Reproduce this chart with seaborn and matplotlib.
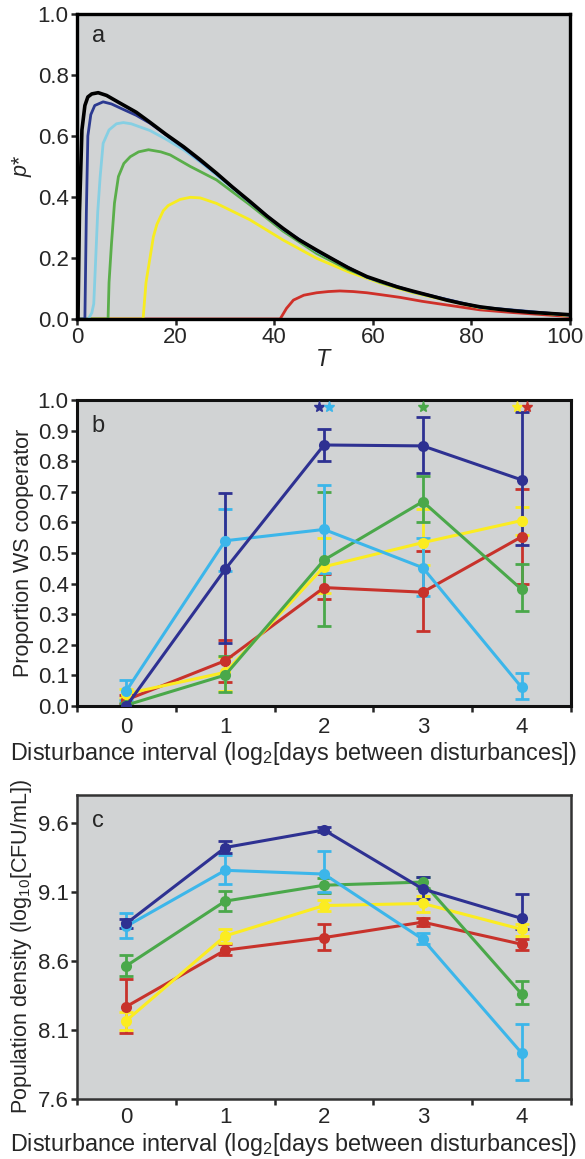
import numpy as np
import pandas as pd
import matplotlib.pyplot as plt
import matplotlib.transforms as mtransforms
import seaborn as sns

sns.set_style("ticks")
plt.rcParams['font.family'] = ['Liberation Sans', 'DejaVu Sans']
plt.rcParams['mathtext.fontset'] = 'custom'
plt.rcParams['mathtext.rm'] = 'Liberation Sans'
plt.rcParams['mathtext.it'] = 'Liberation Sans:italic'
plt.rcParams['mathtext.default'] = 'regular'

# ---- panel a: model curves p*(T) ----
black_T = [0, 0.2, 0.5, 1.0, 1.6, 2.2, 3.0, 4.3, 6.0, 8.7, 12, 14.8, 18, 21.6, 25, 28.3, 31.5, 35.1, 38.5,
           41.8, 45, 48.6, 52, 55, 58.8, 61.5, 65, 68.2, 72, 75, 78, 81.7, 85, 88.5, 92, 96, 100]
black_p = [0, 0, 0.35, 0.62, 0.70, 0.728, 0.738, 0.742, 0.733, 0.708, 0.678, 0.645, 0.606, 0.565, 0.522,
           0.478, 0.433, 0.385, 0.338, 0.297, 0.26, 0.226, 0.195, 0.168, 0.139, 0.124, 0.105, 0.091, 0.075,
           0.062, 0.051, 0.040, 0.033, 0.027, 0.022, 0.018, 0.014]
navy_T = [0, 1.6, 1.9, 2.2, 2.8, 3.6, 5.3, 7.0, 9.0, 12, 14.8, 21.6, 28.3, 35.1, 41.8, 48.6, 58.8, 68.2, 81.7, 100]
navy_p = [0, 0, 0.35, 0.60, 0.67, 0.70, 0.712, 0.705, 0.69, 0.668, 0.642, 0.562, 0.476, 0.383, 0.295, 0.224,
          0.137, 0.09, 0.039, 0.013]
lblue_T = [0, 2.3, 3.0, 3.4, 3.8, 4.2, 4.7, 5.3, 6.5, 8.0, 9.4, 11, 14.8, 18, 21.6, 25, 28.3, 35.1, 41.8,
           48.6, 58.8, 68.2, 81.7, 100]
lblue_p = [0, 0, 0.02, 0.05, 0.20, 0.35, 0.467, 0.576, 0.62, 0.64, 0.644, 0.64, 0.618, 0.59, 0.555, 0.515,
           0.472, 0.382, 0.294, 0.222, 0.136, 0.089, 0.038, 0.012]
green_T = [0, 6.3, 6.5, 7.0, 7.6, 8.4, 9.5, 10.8, 12.5, 14.5, 17, 18.9, 23, 28.3, 35.1, 41.8, 48.6, 55,
           61.5, 68.2, 81.7, 100]
green_p = [0, 0, 0.12, 0.248, 0.38, 0.467, 0.51, 0.532, 0.548, 0.555, 0.548, 0.538, 0.50, 0.456, 0.374,
           0.288, 0.215, 0.162, 0.12, 0.088, 0.038, 0.012]
yellow_T = [0, 13.4, 14.0, 14.8, 15.5, 16.2, 17.5, 18.5, 20.9, 23, 25, 28.3, 35.1, 41.8, 48.6, 55, 61.5,
            68.2, 81.7, 100]
yellow_p = [0, 0, 0.12, 0.20, 0.27, 0.31, 0.355, 0.372, 0.392, 0.399, 0.397, 0.379, 0.325, 0.259, 0.199,
            0.155, 0.118, 0.086, 0.037, 0.011]
red_T = [0, 41.2, 42.5, 43.9, 46, 48.6, 51, 53.3, 56, 58.8, 61.5, 65.5, 70, 75, 81.7, 88.5, 100]
red_p = [0, 0, 0.035, 0.062, 0.078, 0.086, 0.09, 0.092, 0.09, 0.086, 0.080, 0.071, 0.058, 0.046, 0.030,
         0.021, 0.008]

# ---- panels b, c: experiments ----
interval = [0, 1, 2, 3, 4]
groups = ["navy", "lblue", "green", "yellow", "red"]

coop_mean = {
    "navy":   [0.0, 0.447, 0.853, 0.85, 0.739],
    "lblue":  [0.05, 0.54, 0.577, 0.452, 0.061],
    "green":  [0.003, 0.101, 0.477, 0.668, 0.381],
    "yellow": [0.04, 0.11, 0.455, 0.534, 0.606],
    "red":    [0.02, 0.148, 0.387, 0.372, 0.553],
}
coop_lo = {
    "navy":   [0.0, 0.205, 0.80, 0.76, 0.525],
    "lblue":  [0.02, 0.44, 0.435, 0.36, 0.022],
    "green":  [0.0, 0.045, 0.26, 0.60, 0.31],
    "yellow": [0.025, 0.05, 0.37, 0.46, 0.56],
    "red":    [0.005, 0.08, 0.35, 0.245, 0.40],
}
coop_hi = {
    "navy":   [0.0, 0.695, 0.905, 0.945, 0.96],
    "lblue":  [0.085, 0.643, 0.723, 0.548, 0.108],
    "green":  [0.01, 0.165, 0.70, 0.75, 0.465],
    "yellow": [0.055, 0.16, 0.55, 0.645, 0.65],
    "red":    [0.035, 0.215, 0.43, 0.505, 0.71],
}
star_x = [1.95, 2.05, 3.0, 3.95, 4.05]
star_groups = ["navy", "lblue", "green", "yellow", "red"]

dens_mean = {
    "navy":   [8.871, 9.42, 9.547, 9.12, 8.907],
    "lblue":  [8.85, 9.255, 9.228, 8.756, 7.933],
    "green":  [8.564, 9.032, 9.147, 9.17, 8.36],
    "yellow": [8.168, 8.78, 9.0, 9.015, 8.828],
    "red":    [8.269, 8.677, 8.768, 8.88, 8.72],
}
dens_lo = {
    "navy":   [8.84, 9.38, 9.53, 9.05, 8.83],
    "lblue":  [8.768, 9.156, 9.10, 8.72, 7.737],
    "green":  [8.492, 8.96, 9.09, 9.13, 8.288],
    "yellow": [8.10, 8.73, 8.96, 8.95, 8.78],
    "red":    [8.077, 8.64, 8.677, 8.85, 8.68],
}
dens_hi = {
    "navy":   [8.90, 9.47, 9.565, 9.21, 9.085],
    "lblue":  [8.948, 9.367, 9.396, 8.80, 8.144],
    "green":  [8.643, 9.108, 9.20, 9.21, 8.451],
    "yellow": [8.23, 8.83, 9.04, 9.07, 8.87],
    "red":    [8.468, 8.72, 8.864, 8.91, 8.76],
}

colors_a = {"black": "#000000", "navy": "#2b3990", "lblue": "#86cfe3",
            "green": "#5aae4a", "yellow": "#f7ec1f", "red": "#cf3029"}
colors_bc = {"navy": "#2e3192", "lblue": "#3cb6ea", "green": "#4aa84a",
             "yellow": "#fbec21", "red": "#c8322b"}
bg = "#d1d3d4"
fs_tick = 16
fs_xlab = 16.8
fs_ylab = 15.5

fig = plt.figure(figsize=(5.85, 11.59), dpi=100)
W, H = 585, 1159
def box(left, top, right, bottom):
    return [left / W, 1 - bottom / H, (right - left) / W, (bottom - top) / H]

ax_a = fig.add_axes(box(77, 14, 570, 319))
ax_b = fig.add_axes(box(77, 400, 571, 706))
ax_c = fig.add_axes(box(77, 795, 571, 1099))

# panel a
curves = [("red", red_T, red_p), ("yellow", yellow_T, yellow_p), ("green", green_T, green_p),
          ("lblue", lblue_T, lblue_p), ("navy", navy_T, navy_p), ("black", black_T, black_p)]
frames = []
for name, T, p in curves:
    frames.append(pd.DataFrame({"T": T, "p": p, "curve": name}))
df_a = pd.concat(frames, ignore_index=True)
for name, T, p in curves:
    sub = df_a[df_a["curve"] == name]
    sns.lineplot(data=sub, x="T", y="p", color=colors_a[name], lw=2.6 if name == "black" else 2.0,
                 sort=False, estimator=None, ax=ax_a, legend=False)
ax_a.set_xlim(0, 100)
ax_a.set_ylim(0, 1.0)
ax_a.set_xticks([0, 20, 40, 60, 80, 100])
ax_a.set_yticks([0.0, 0.2, 0.4, 0.6, 0.8, 1.0])
ax_a.set_yticklabels(["0.0", "0.2", "0.4", "0.6", "0.8", "1.0"])
ax_a.set_xlabel("T", fontsize=fs_xlab, style="italic", labelpad=0)
ax_a.set_ylabel("p*", fontsize=fs_ylab, style="italic", labelpad=4)
ax_a.text(0.03, 0.965, "a", transform=ax_a.transAxes, fontsize=17, va="top", ha="left")


def draw_panel(ax, mean, lo, hi, label_y, tick_pad):
    rows = []
    for g in groups:
        for x, m in zip(interval, mean[g]):
            rows.append({"interval": x, "value": m, "group": g})
    df = pd.DataFrame(rows)
    order = ["red", "yellow", "green", "lblue", "navy"]
    for g in order:
        m = np.array(mean[g])
        yerr = [m - np.array(lo[g]), np.array(hi[g]) - m]
        ax.errorbar(interval, m, yerr=yerr, fmt="none", ecolor=colors_bc[g],
                    elinewidth=2.0, capsize=5, capthick=2.0, zorder=2)
        sns.lineplot(data=df[df["group"] == g], x="interval", y="value", color=colors_bc[g],
                     marker="o", markersize=8, markeredgewidth=0, lw=2.2, ax=ax, legend=False,
                     estimator=None, zorder=3)
    ax.set_xlim(-0.5, 4.5)
    ax.set_xticks(interval)
    ax.set_xticks([-0.5, 0.5, 1.5, 2.5, 3.5, 4.5], minor=True)
    ax.tick_params(axis="x", which="major", length=0, pad=tick_pad)
    ax.tick_params(axis="x", which="minor", length=4, width=1.8, direction="out")
    ax.set_xlabel("Disturbance interval (log$_2$[days between disturbances])", fontsize=fs_xlab,
                  ha="left", va="top")
    ax.xaxis.set_label_coords(-0.135, label_y)


draw_panel(ax_b, coop_mean, coop_lo, coop_hi, -0.112, 8)
for sx, g in zip(star_x, star_groups):
    ax_b.plot([sx], [0.977], marker="*", color=colors_bc[g], markersize=8, ls="none", zorder=4)
ax_b.set_ylim(0, 1.0)
ax_b.set_yticks(np.round(np.arange(0, 1.01, 0.1), 1))
ax_b.set_yticklabels([f"{v:.1f}" for v in np.arange(0, 1.01, 0.1)])
ax_b.set_ylabel("Proportion WS cooperator", fontsize=fs_ylab, labelpad=3)
ax_b.text(0.03, 0.95, "b", transform=ax_b.transAxes, fontsize=17, va="top", ha="left")

draw_panel(ax_c, dens_mean, dens_lo, dens_hi, -0.105, 6)
ax_c.set_ylim(7.6, 9.8)
ax_c.set_yticks([7.6, 8.1, 8.6, 9.1, 9.6])
ax_c.set_ylabel("Population density (log$_{10}$[CFU/mL])", fontsize=fs_ylab, labelpad=3)
ax_c.text(0.03, 0.95, "c", transform=ax_c.transAxes, fontsize=17, va="top", ha="left")

for ax, lw, sc in [(ax_a, 2.4, "black"), (ax_b, 2.2, "#111111"), (ax_c, 1.8, "#333333")]:
    ax.set_facecolor(bg)
    for s in ax.spines.values():
        s.set_linewidth(lw)
        s.set_color(sc)
        s.set_visible(True)
    ax.tick_params(axis="y", direction="out", length=4, width=1.8, labelsize=fs_tick, pad=2)
    ax.tick_params(axis="x", labelsize=fs_tick)
ax_a.tick_params(axis="x", direction="out", length=4, width=1.8, pad=2)

# keep the "100" label inside the figure edge
last = ax_a.xaxis.get_major_ticks()[-1].label1
last.set_transform(last.get_transform() + mtransforms.ScaledTranslation(-4 / 72, 0, fig.dpi_scale_trans))

fig.savefig("out.png", dpi=100, facecolor="white")
